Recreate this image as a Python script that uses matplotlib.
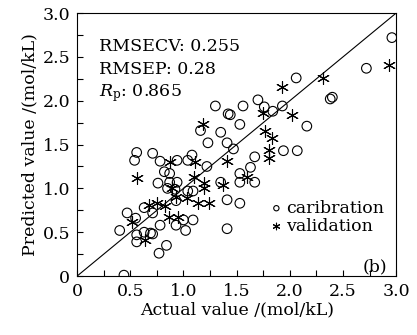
import matplotlib.pyplot as plt
from matplotlib.ticker import MultipleLocator

# calibration set (actual, predicted)
cal_actual = [2.96, 2.72, 2.06, 2.38, 2.40, 1.70, 1.76, 1.84, 1.93, 1.53, 2.16, 1.44,
              1.94, 2.07, 1.30, 1.42, 1.56, 1.35, 1.16, 1.23, 1.41, 1.47, 1.67, 0.94,
              1.04, 1.08, 1.22, 0.56, 0.54, 0.71, 0.78, 0.82, 0.87, 0.76, 0.85, 0.92,
              0.87, 0.94, 0.93, 1.04, 1.09, 1.09, 1.02, 1.41, 1.53, 1.41, 1.35, 1.53,
              1.63, 1.53, 1.67, 0.47, 0.40, 0.56, 0.63, 0.69, 0.77, 0.84, 0.44, 0.55,
              0.63, 0.71, 0.78, 0.56, 1.00, 0.93, 0.71]
cal_pred = [2.72, 2.37, 2.26, 2.02, 2.04, 2.01, 1.93, 1.88, 1.94, 1.73, 1.71, 1.84,
            1.43, 1.43, 1.94, 1.85, 1.94, 1.64, 1.66, 1.52, 1.52, 1.45, 1.36, 1.32,
            1.32, 1.38, 1.25, 1.41, 1.32, 1.40, 1.31, 1.19, 1.17, 1.06, 1.00, 0.99,
            1.07, 1.07, 0.86, 0.97, 0.97, 0.64, 0.52, 0.87, 0.83, 0.54, 1.07, 1.17,
            1.24, 1.07, 1.07, 0.72, 0.52, 0.47, 0.50, 0.49, 0.26, 0.35, 0.01, 0.66,
            0.78, 0.72, 0.58, 0.39, 0.64, 0.58, 0.48]

# validation set (actual, predicted)
val_actual = [2.93, 2.31, 1.93, 1.75, 2.02, 1.77, 1.83, 1.80, 1.80, 1.18, 1.41, 1.11,
              0.87, 0.56, 1.60, 1.37, 1.19, 1.10, 1.19, 0.89, 0.93, 1.03, 1.14, 1.24,
              0.68, 0.75, 0.83, 0.86, 0.95, 0.52, 0.64]
val_pred = [2.41, 2.26, 2.16, 1.86, 1.84, 1.66, 1.57, 1.44, 1.35, 1.74, 1.31, 1.30,
            1.30, 1.12, 1.13, 1.04, 1.06, 1.13, 1.01, 1.01, 0.90, 0.89, 0.83, 0.83,
            0.81, 0.83, 0.80, 0.67, 0.67, 0.62, 0.41]

stats = ['RMSECV: 0.255', 'RMSEP: 0.28', r'$R_{\mathrm{p}}$: 0.865']

plt.rcParams['font.family'] = 'DejaVu Serif'
plt.rcParams['mathtext.fontset'] = 'dejavuserif'
fs = 12.5

fig = plt.figure(figsize=(4.17, 3.35), dpi=100)
ax = fig.add_axes([0.185, 0.176, 0.765, 0.785])

ax.plot([0, 3], [0, 3], color='black', lw=0.8, zorder=1)
ax.scatter(cal_actual, cal_pred, s=48, facecolors='none', edgecolors='black',
           linewidths=0.8, label='caribration', zorder=2)
ax.scatter(val_actual, val_pred, s=75, marker=(6, 2, 0), color='black',
           linewidths=0.8, label='validation', zorder=3)

ax.set_xlim(0, 3)
ax.set_ylim(0, 3)
ax.xaxis.set_major_locator(MultipleLocator(0.5))
ax.yaxis.set_major_locator(MultipleLocator(0.5))
ax.xaxis.set_minor_locator(MultipleLocator(0.25))
ax.yaxis.set_minor_locator(MultipleLocator(0.25))
ax.set_xticklabels(['0' if t == 0 else f'{t:.1f}' for t in ax.get_xticks()])
ax.set_yticklabels(['0' if t == 0 else f'{t:.1f}' for t in ax.get_yticks()])
ax.tick_params(which='both', direction='in', length=4, width=0.8,
               top=False, right=False, labelsize=fs, pad=5)

ax.set_xlabel('Actual value /(mol/kL)', fontsize=fs, labelpad=1)
ax.set_ylabel('Predicted value /(mol/kL)', fontsize=fs, labelpad=3)

for i, s in enumerate(stats):
    ax.text(0.21, 2.62 - i * 0.265, s, fontsize=fs, va='center')

ax.text(2.92, 0.11, '(b)', fontsize=fs, ha='right', va='center')

ax.legend(loc='upper left', bbox_to_anchor=(0.6, 0.29), frameon=False,
          fontsize=fs, handletextpad=0.1, borderpad=0.0, labelspacing=0.05,
          markerscale=0.55, handlelength=0.9, borderaxespad=0.0)

fig.savefig('out.png', dpi=100)
